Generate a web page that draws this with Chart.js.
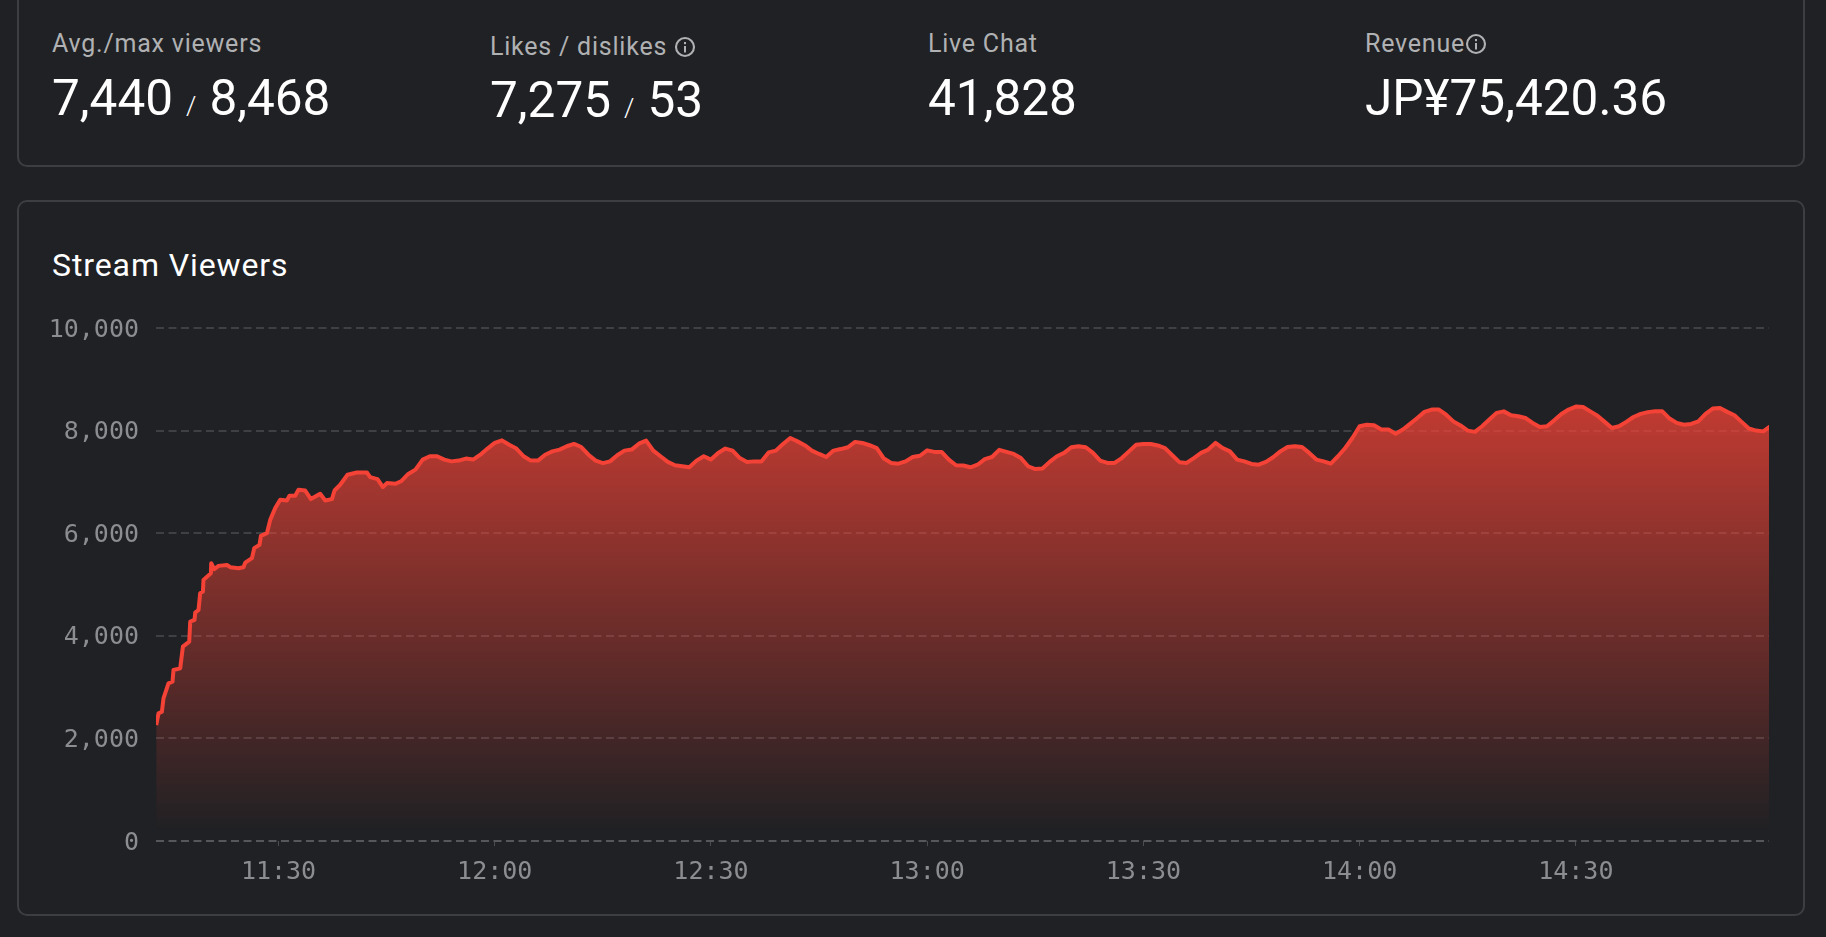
<!DOCTYPE html>
<html>
<head>
<meta charset="utf-8">
<title>Stream Viewers</title>
<script src="https://cdn.jsdelivr.net/npm/chart.js@4"></script>
<style>
html, body { margin: 0; padding: 0; width: 1826px; height: 937px; overflow: hidden; background: #202124; font-family: Roboto, sans-serif; }
.card { position: absolute; box-sizing: border-box; left: 17px; width: 1788px; border: 2px solid #3c3e42; border-radius: 10px; }
#statsCard { top: -20px; height: 187px; }
#chartCard { top: 200px; height: 716px; }
.label { position: absolute; white-space: nowrap; font-size: 25px; line-height: 30px; letter-spacing: 0.78px; color: #b0b1b3; }
.value { position: absolute; white-space: nowrap; font-size: 49.5px; line-height: 56px; color: #fff; }
.value small { font-size: 26px; font-weight: 300; margin: 0 13px; }
.label svg { width: 22px; height: 22px; vertical-align: -3px; }
#title { position: absolute; left: 52px; top: 245px; font-size: 32px; line-height: 40px; letter-spacing: 0.9px; color: #fff; white-space: nowrap; }
canvas { position: absolute; left: 0; top: 0; }
</style>
</head>
<body>
<div class="card" id="statsCard"></div>
<div class="card" id="chartCard"></div>

<div class="label" style="left:52px;top:29px">Avg./max viewers</div>
<div class="value" style="left:52px;top:70px">7,440<small>/</small>8,468</div>
<div class="label" style="left:490px;top:32px">Likes / dislikes <svg viewBox="0 0 22 22"><circle cx="11" cy="11" r="9" fill="none" stroke="#b0b1b3" stroke-width="2.1"/><rect x="10" y="10" width="2" height="6.5" fill="#b0b1b3"/><rect x="10" y="6" width="2" height="2.2" fill="#b0b1b3"/></svg></div>
<div class="value" style="left:490px;top:72px">7,275<small>/</small>53</div>
<div class="label" style="left:928px;top:29px">Live Chat</div>
<div class="value" style="left:928px;top:70px">41,828</div>
<div class="label" style="left:1365px;top:29px">Revenue<svg viewBox="0 0 22 22"><circle cx="11" cy="11" r="9" fill="none" stroke="#b0b1b3" stroke-width="2.1"/><rect x="10" y="10" width="2" height="6.5" fill="#b0b1b3"/><rect x="10" y="6" width="2" height="2.2" fill="#b0b1b3"/></svg></div>
<div class="value" style="left:1365px;top:70px">JP¥75,420.36</div>

<div id="title">Stream Viewers</div>
<canvas id="viewersChart" width="1826" height="937"></canvas>

<script>
// minutes since midnight: the ramp up is read point by point, the rest once a minute
const rampMinutes = [
    673.03, 673.35, 673.82, 674.04, 674.73, 675.29, 675.43, 676.36, 676.73, 677.61,
    677.75, 678.34, 678.44, 678.9, 679.13, 679.51, 679.59, 680.62, 680.66, 681.08,
    681.67, 682.84, 683.3, 684.45, 685.14, 685.38, 686.31, 686.63, 687.36, 687.56,
    688.39, 688.85, 689.54, 690.23, 691.16, 691.52, 692.31, 692.77, 693.7, 694.49,
    695.78, 696.48, 697.41, 697.77, 698.56, 699.57, 700.87, 702.26, 702.72, 703.73,
    704.48, 705.04, 706.19
];
const rampViewers = [
    2260, 2488, 2520, 2780, 3074, 3105, 3333, 3366, 3788, 3886,
    4276, 4309, 4451, 4504, 4830, 4861, 5090, 5220, 5415, 5298,
    5363, 5382, 5337, 5318, 5337, 5427, 5513, 5708, 5773, 5948,
    6000, 6260, 6489, 6651, 6637, 6729, 6729, 6846, 6832, 6665,
    6768, 6637, 6665, 6832, 6944, 7139, 7184, 7184, 7094, 7055,
    6899, 6977, 6963
];
const steadyStart = 707; // 11:47
const steadyViewers = [
    7012, 7155, 7240, 7435, 7500, 7500, 7435, 7400, 7415, 7455,
    7435, 7530, 7650, 7760, 7810, 7725, 7650, 7500, 7415, 7415,
    7530, 7595, 7630, 7695, 7740, 7680, 7530, 7415, 7365, 7400,
    7520, 7610, 7630, 7745, 7805, 7610, 7500, 7390, 7325, 7305,
    7285, 7415, 7500, 7435, 7565, 7650, 7610, 7465, 7390, 7400,
    7400, 7575, 7610, 7740, 7855, 7790, 7715, 7610, 7545, 7485,
    7610, 7640, 7675, 7780, 7760, 7715, 7660, 7455, 7370, 7355,
    7400, 7485, 7510, 7615, 7585, 7585, 7435, 7325, 7320, 7285,
    7335, 7445, 7485, 7625, 7585, 7545, 7465, 7305, 7250, 7260,
    7390, 7500, 7565, 7675, 7695, 7675, 7565, 7415, 7370, 7370,
    7465, 7595, 7725, 7740, 7740, 7710, 7660, 7520, 7385, 7370,
    7465, 7565, 7630, 7760, 7660, 7595, 7435, 7400, 7350, 7335,
    7390, 7480, 7595, 7680, 7695, 7680, 7565, 7435, 7400, 7355,
    7500, 7660, 7855, 8085, 8115, 8105, 8020, 8020, 7940,
    8020, 8130, 8245, 8365, 8410, 8410, 8310, 8180, 8100, 8000,
    7975, 8085, 8215, 8345, 8375, 8300, 8280, 8245, 8150, 8070,
    8085, 8200, 8325, 8410, 8468, 8460, 8375, 8290, 8170, 8050,
    8085, 8170, 8265, 8325, 8360, 8375, 8375, 8235, 8150, 8115,
    8130, 8180, 8325, 8430, 8440, 8365, 8300, 8170, 8040, 8000,
    7985, 8085
];
const timeTicks = [690, 720, 750, 780, 810, 840, 870];
const timeLabels = ['11:30', '12:00', '12:30', '13:00', '13:30', '14:00', '14:30'];
const viewerTicks = [0, 2000, 4000, 6000, 8000, 10000];

function fillGradient(context) {
    let area = context.chart.chartArea;
    if (!area) return 'transparent';
    let g = context.chart.ctx.createLinearGradient(0, area.top + 78, 0, area.bottom - 10);
    g.addColorStop(0, 'rgba(244,67,54,0.76)');
    g.addColorStop(1, 'rgba(244,67,54,0)');
    return g;
}

let points = rampMinutes.map((m, i) => ({ x: m, y: rampViewers[i] }))
    .concat(steadyViewers.map((v, i) => ({ x: steadyStart + i, y: v })));

new Chart(document.getElementById('viewersChart'), {
    type: 'line',
    data: {
        datasets: [{
            data: points,
            borderColor: '#f44336',
            borderWidth: 4,
            borderJoinStyle: 'round',
            backgroundColor: fillGradient,
            fill: 'origin',
            pointRadius: 0,
            tension: 0
        }]
    },
    options: {
        responsive: false,
        animation: false,
        layout: { padding: { left: 0, right: 57, top: 328, bottom: 36 } },
        plugins: { legend: { display: false }, tooltip: { enabled: false } },
        scales: {
            x: {
                type: 'linear',
                min: 673,
                max: 896.8,
                afterBuildTicks: (s) => { s.ticks = timeTicks.map((v) => ({ value: v })); },
                afterFit: (s) => { s.height = 60; },
                grid: { drawOnChartArea: false, drawTicks: true, tickLength: 5, tickColor: '#4b4d51' },
                border: { display: false },
                ticks: {
                    callback: (v) => timeLabels[timeTicks.indexOf(v)],
                    maxRotation: 0,
                    autoSkip: false,
                    padding: 11,
                    color: '#8c8d90',
                    font: { family: '"DejaVu Sans Mono"', size: 25 }
                }
            },
            y: {
                min: 0,
                max: 10000,
                afterBuildTicks: (s) => { s.ticks = viewerTicks.map((v) => ({ value: v })); },
                afterFit: (s) => { s.width = 156; },
                grid: {
                    color: (c) => c.tick && c.tick.value === 0 ? '#55575b' : '#3e4044',
                    lineWidth: 2,
                    drawTicks: false
                },
                border: { display: false, dash: [8, 4.5] },
                ticks: {
                    // empty first line with a 4px line height nudges the label 2px down
                    callback: (v) => ['', v.toLocaleString('en-US')],
                    padding: 17,
                    color: '#8c8d90',
                    font: { family: '"DejaVu Sans Mono"', size: 25, lineHeight: '4px' }
                }
            }
        }
    }
});
</script>
</body>
</html>
